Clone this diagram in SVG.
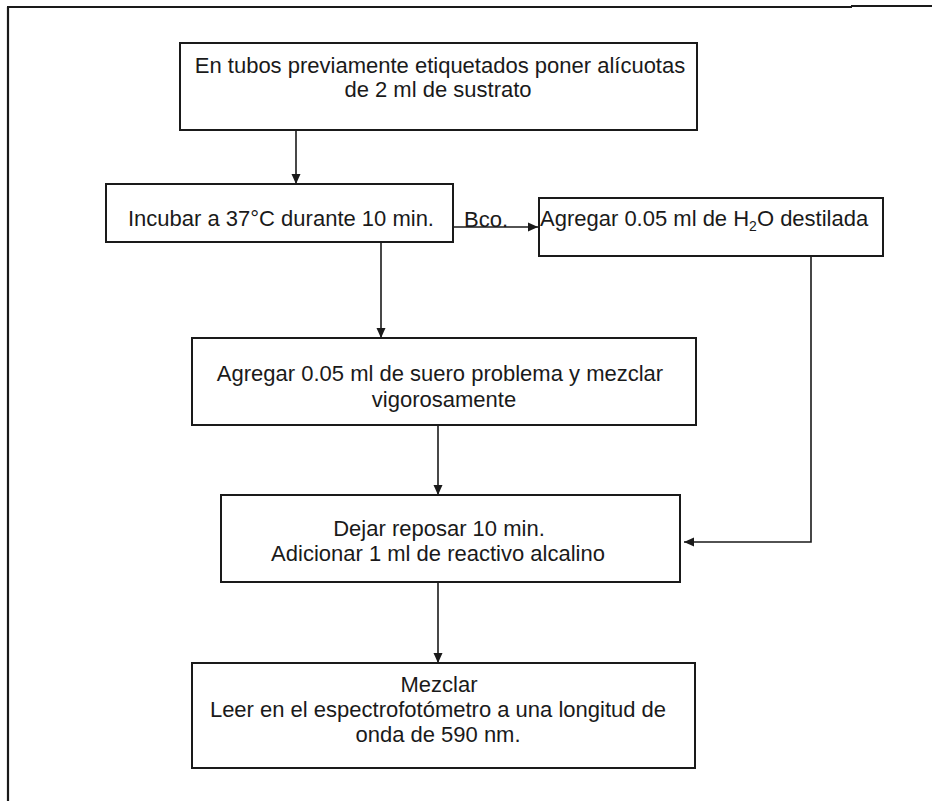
<svg xmlns="http://www.w3.org/2000/svg" width="932" height="801" viewBox="0 0 932 801">
  <style>
    .box { fill: #ffffff; stroke: #1a1a1a; stroke-width: 2; }
    .t { font-family: "Liberation Sans", Arial, sans-serif; font-size: 22px; fill: #1a1a1a; }
    .mid { text-anchor: middle; }
    .wire { fill: none; stroke: #1a1a1a; stroke-width: 1.6; }
    .frame { stroke: #1a1a1a; stroke-width: 2.2; fill: none; }
  </style>
  <defs>
    <marker id="arrow" markerUnits="userSpaceOnUse" markerWidth="12" markerHeight="12" viewBox="0 0 12 12" refX="11" refY="6" orient="auto">
      <path d="M1,1.5 L11,6 L1,10.5 Z" fill="#1a1a1a"/>
    </marker>
  </defs>

  <rect width="932" height="801" fill="#ffffff"/>

  <!-- page frame -->
  <g id="frame">
    <line class="frame" x1="8" y1="7" x2="8" y2="801"/>
    <line class="frame" x1="7" y1="7" x2="852" y2="7"/>
    <line class="frame" x1="851" y1="6" x2="932" y2="6" stroke-width="3"/>
  </g>

  <!-- connectors -->
  <g id="connectors">
    <line class="wire" x1="296" y1="130" x2="296" y2="184" marker-end="url(#arrow)"/>
    <line class="wire" x1="453" y1="227" x2="538" y2="227" marker-end="url(#arrow)"/>
    <line class="wire" x1="381" y1="242" x2="381" y2="338" marker-end="url(#arrow)"/>
    <line class="wire" x1="438" y1="425" x2="438" y2="495" marker-end="url(#arrow)"/>
    <line class="wire" x1="438" y1="582" x2="438" y2="663" marker-end="url(#arrow)"/>
    <polyline class="wire" points="811,250 811,542 684,542" marker-end="url(#arrow)"/>
    <text class="t" x="464" y="227" font-size="20">Bco.</text>
  </g>

  <g id="n1">
    <rect class="box" x="180" y="43" width="517" height="87"/>
    <text class="t mid" x="440" y="73">En tubos previamente etiquetados poner alícuotas</text>
    <text class="t mid" x="438" y="97">de 2 ml de sustrato</text>
  </g>

  <g id="n2">
    <rect class="box" x="106" y="184" width="347" height="58"/>
    <text class="t mid" x="281" y="226">Incubar a 37°C durante 10 min.</text>
  </g>

  <g id="n3">
    <rect class="box" x="539" y="198" width="344" height="58"/>
    <text class="t" x="540" y="226">Agregar 0.05 ml de H<tspan font-size="14" dy="5">2</tspan><tspan dy="-5">O destilada</tspan></text>
  </g>

  <g id="n4">
    <rect class="box" x="192" y="338" width="504" height="87"/>
    <text class="t mid" x="440" y="381">Agregar 0.05 ml de suero problema y mezclar</text>
    <text class="t mid" x="444" y="407">vigorosamente</text>
  </g>

  <g id="n5">
    <rect class="box" x="221" y="495" width="459" height="87"/>
    <text class="t mid" x="439" y="536">Dejar reposar 10 min.</text>
    <text class="t mid" x="438" y="561">Adicionar 1 ml de reactivo alcalino</text>
  </g>

  <g id="n6">
    <rect class="box" x="192" y="663" width="503" height="105"/>
    <text class="t mid" x="439" y="692">Mezclar</text>
    <text class="t mid" x="438" y="717">Leer en el espectrofotómetro a una longitud de</text>
    <text class="t mid" x="438" y="742">onda de 590 nm.</text>
  </g>
</svg>
